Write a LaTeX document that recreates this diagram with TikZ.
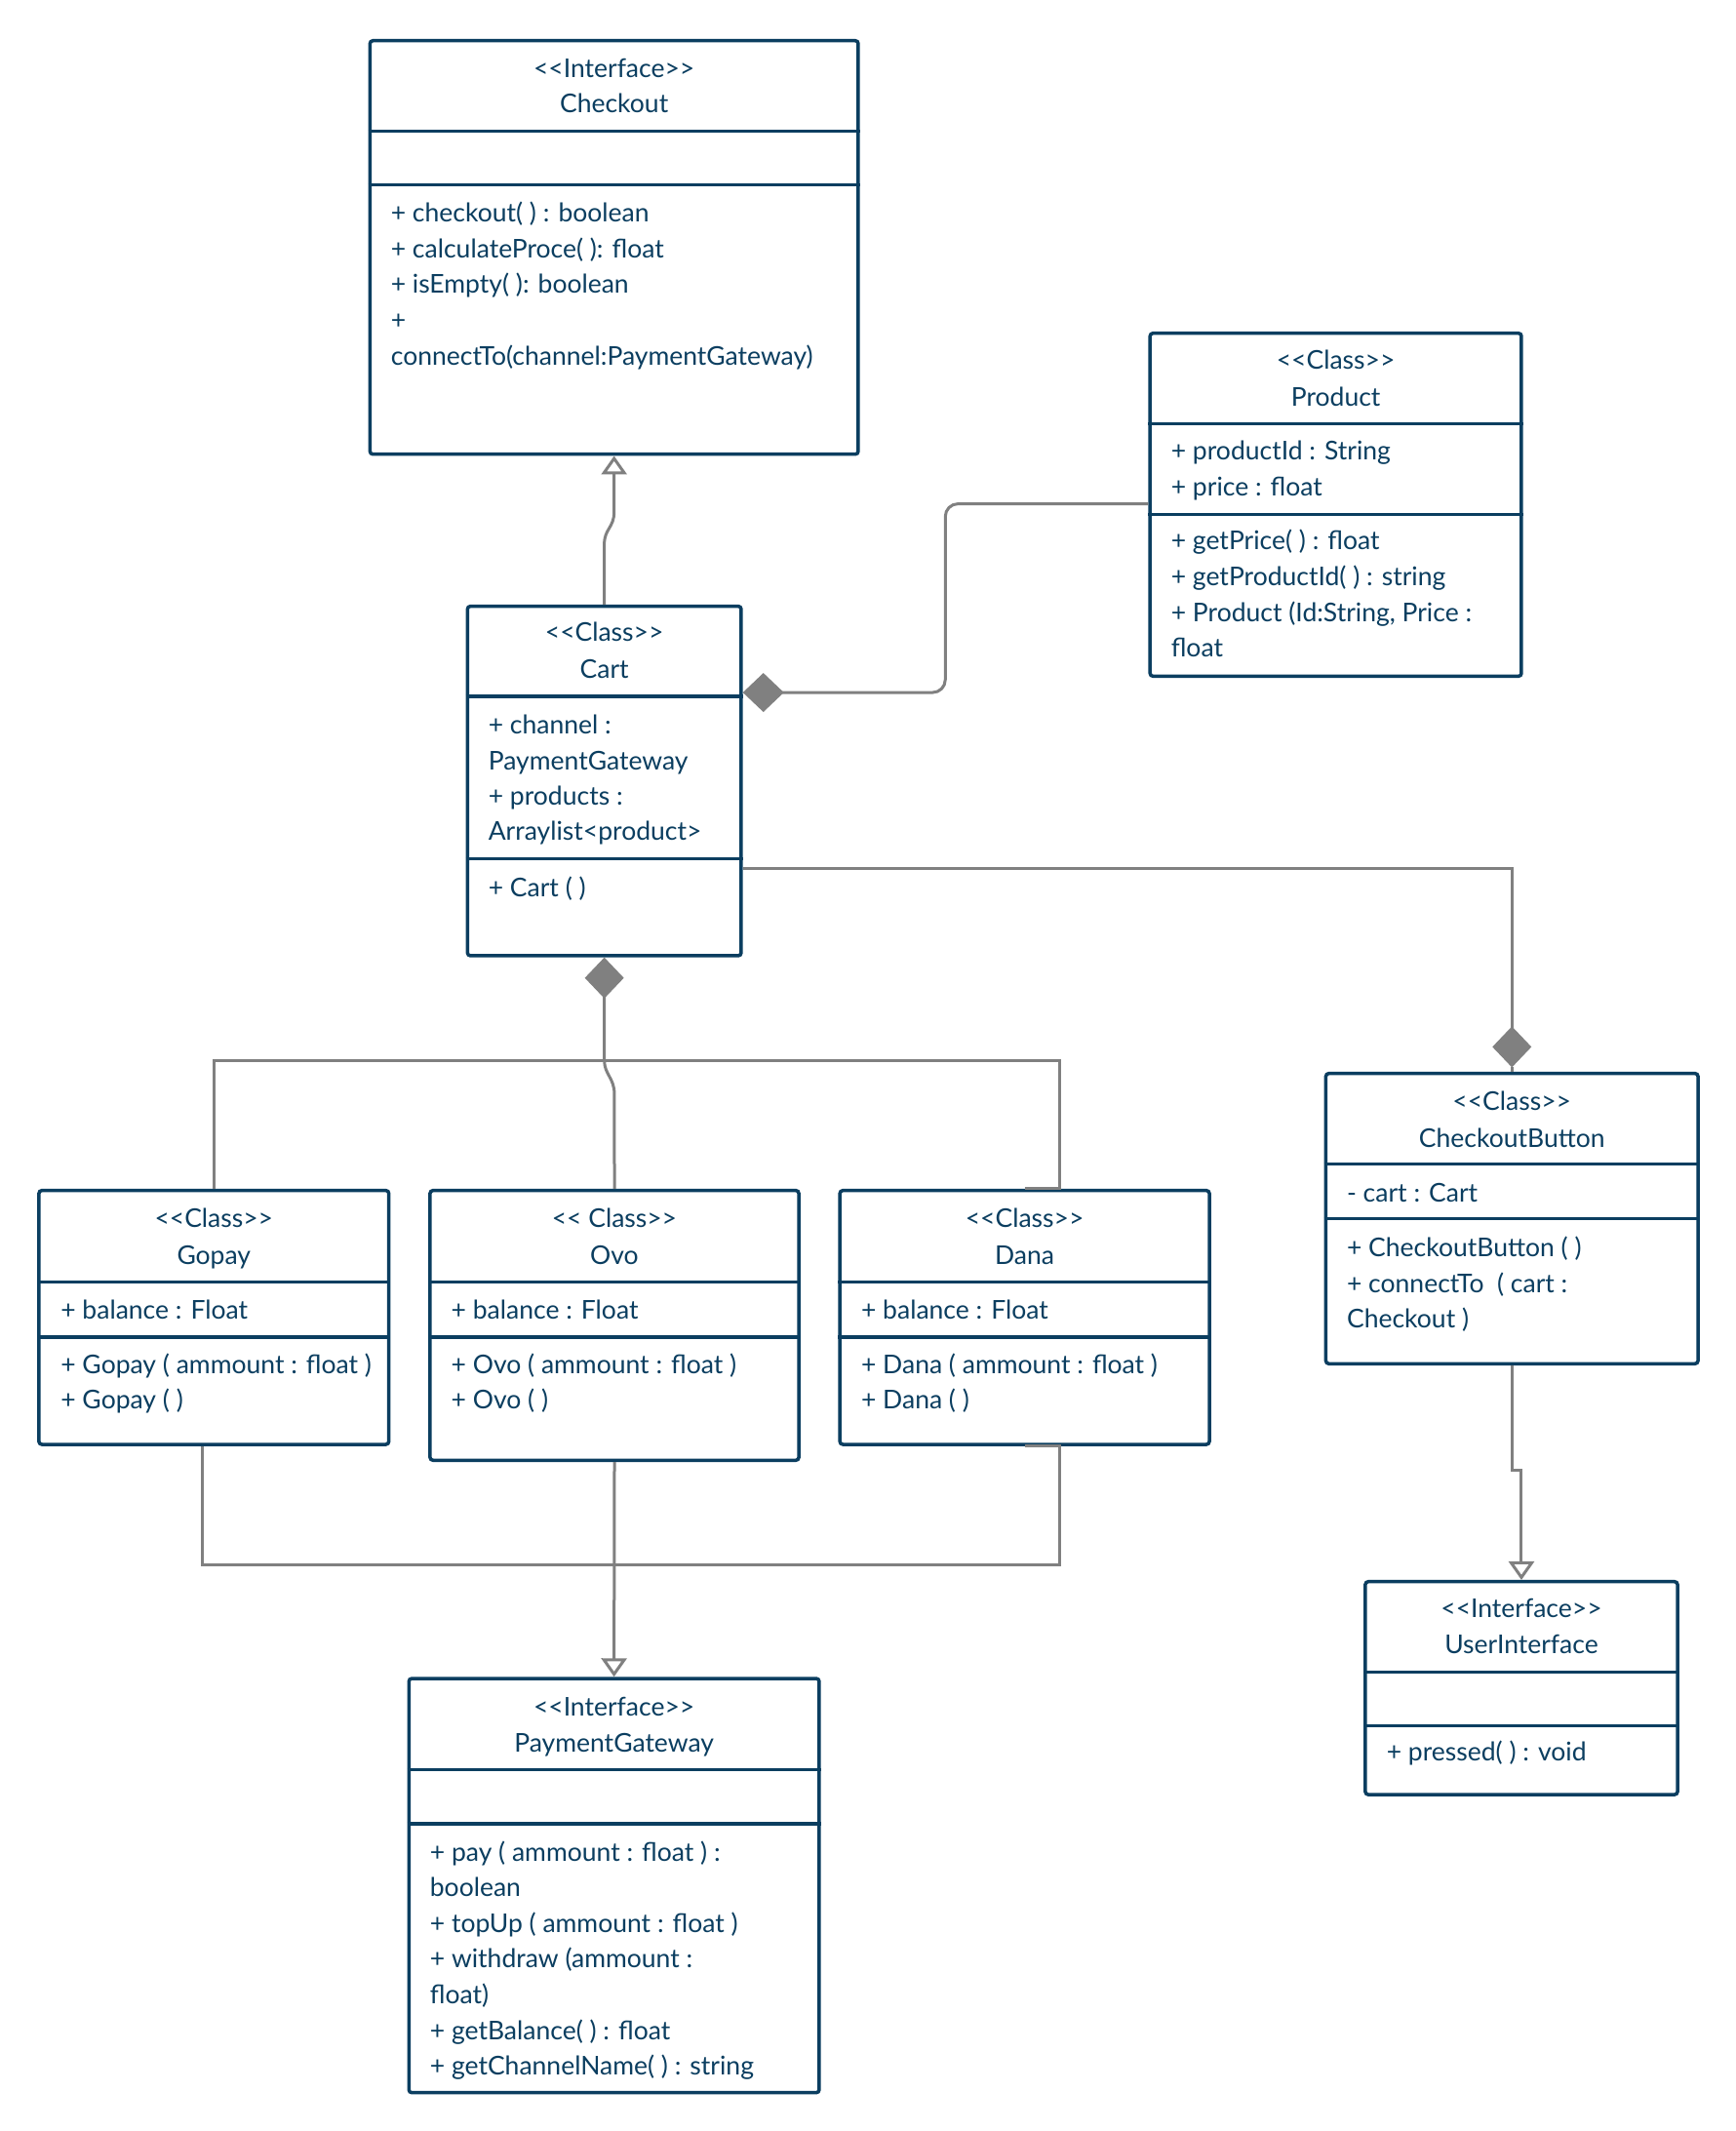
\documentclass[tikz,border=0pt]{standalone}
\usepackage{fontspec}
\setmainfont{Lato}
\usetikzlibrary{arrows.meta,fit}
\definecolor{umlblue}{RGB}{11,62,96}
\definecolor{umlgray}{RGB}{128,128,128}
\newcommand\umlline[4]{\node[umltxt] (#1) at (#2,#3) {#4};}
\newcommand\umlhead[4]{\node[umlhd] (#1) at (#2,#3) {#4};}
\newcommand\umlbox[5]{\node[umlbx, fit={(#2,#3) (#4,#5)}] (#1) {};}
\newcommand\umldiv[2]{\draw[umldv] (#1.west |- 0,#2) -- (#1.east |- 0,#2);}
\tikzset{
 umlbx/.style={draw=umlblue, line width=3.5pt, rounded corners=3pt, fill=white, inner sep=0pt},
 umldv/.style={draw=umlblue, line width=3.2pt},
 umltxt/.style={anchor=base west, inner sep=0pt, text=umlblue, font=\fontsize{26.5}{36}\selectfont},
 umlhd/.style={umltxt, anchor=base},
 conn/.style={draw=umlgray, line width=3pt},
 comp/.style={conn, -{Diamond[length=42pt,width=40pt]}},
 real/.style={conn, -{Triangle[open,length=19pt,width=26pt]}},
}
\begin{document}
\begin{tikzpicture}[x=1.390625pt, y=-1.390625pt]
\fill[white] (0,0) rectangle (1280,1571.27);
\useasboundingbox (0,0) rectangle (1280,1571.27);

% ---------- Checkout
\umlbox{checkout}{272.8}{30}{632.8}{334.9}
\umldiv{checkout}{96.6}
\umldiv{checkout}{136.2}
\umlhead{co0}{452.8}{57.1}{<{}<Interface>{}>}
\umlhead{co1}{452.8}{83.4}{Checkout}
\umlline{co2}{288.1}{163.7}{+ checkout( ) : boolean}
\umlline{co3}{288.1}{190}{+ calculateProce( ): float}
\umlline{co4}{288.1}{216.3}{+ isEmpty( ): boolean}
\umlline{co5}{288.1}{242.7}{+}
\umlline{co6}{288.1}{269}{connectTo(channel:PaymentGateway)}

% ---------- Product
\umlbox{product}{848}{245.7}{1121.8}{498.6}
\umldiv{product}{312.3}
\umldiv{product}{379.4}
\umlhead{pr0}{984.9}{272}{<{}<Class>{}>}
\umlhead{pr1}{984.9}{299.2}{Product}
\umlline{pr2}{863.4}{339.2}{+ productId : String}
\umlline{pr3}{863.4}{365.5}{+ price : float}
\umlline{pr4}{863.4}{405.1}{+ getPrice( ) : float}
\umlline{pr5}{863.4}{431.5}{+ getProductId( ) : string}
\umlline{pr6}{863.4}{458.3}{+ Product (Id:String, Price :}
\umlline{pr7}{863.4}{484.2}{float}

% ---------- Cart
\umlbox{cart}{344.7}{447}{546.5}{704.7}
\umldiv{cart}{513.4}
\umldiv{cart}{633.3}
\umlhead{ca0}{445.6}{472.9}{<{}<Class>{}>}
\umlhead{ca1}{445.6}{500.5}{Cart}
\umlline{ca2}{360}{541.2}{+ channel :}
\umlline{ca3}{360}{567.6}{PaymentGateway}
\umlline{ca4}{360}{593.3}{+ products :}
\umlline{ca5}{360}{619.6}{Arraylist<product>}
\umlline{ca6}{360}{661.1}{+ Cart ( )}

% ---------- CheckoutButton
\umlbox{cb}{977.6}{791.5}{1252}{1005.5}
\umldiv{cb}{858.2}
\umldiv{cb}{898.5}
\umlhead{cb0}{1114.8}{818.9}{<{}<Class>{}>}
\umlhead{cb1}{1114.8}{845.9}{CheckoutButton}
\umlline{cb2}{993}{886.2}{- cart : Cart}
\umlline{cb3}{993}{926.6}{+ CheckoutButton ( )}
\umlline{cb4}{993}{952.9}{+ connectTo\ \ ( cart :}
\umlline{cb5}{993}{979.2}{Checkout )}

% ---------- Gopay
\umlbox{gopay}{28.7}{877.8}{286.7}{1065}
\umldiv{gopay}{945.1}
\umldiv{gopay}{985.9}
\umlhead{go0}{157.7}{904.9}{<{}<Class>{}>}
\umlhead{go1}{157.7}{932}{Gopay}
\umlline{go2}{44.7}{972.7}{+ balance : Float}
\umlline{go3}{44.7}{1012.8}{+ Gopay ( ammount : float )}
\umlline{go4}{44.7}{1039.1}{+ Gopay ( )}

% ---------- Ovo
\umlbox{ovo}{317.1}{877.8}{589}{1076.7}
\umldiv{ovo}{945.1}
\umldiv{ovo}{985.9}
\umlhead{ov0}{453}{904.9}{<{}< Class>{}>}
\umlhead{ov1}{453}{932}{Ovo}
\umlline{ov2}{332.6}{972.7}{+ balance : Float}
\umlline{ov3}{332.6}{1012.8}{+ Ovo ( ammount : float )}
\umlline{ov4}{332.6}{1039.1}{+ Ovo ( )}

% ---------- Dana
\umlbox{dana}{619.3}{877.8}{891.7}{1065}
\umldiv{dana}{945.1}
\umldiv{dana}{985.9}
\umlhead{da0}{755.5}{904.9}{<{}<Class>{}>}
\umlhead{da1}{755.5}{932}{Dana}
\umlline{da2}{634.9}{972.7}{+ balance : Float}
\umlline{da3}{634.9}{1012.8}{+ Dana ( ammount : float )}
\umlline{da4}{634.9}{1039.1}{+ Dana ( )}

% ---------- PaymentGateway
\umlbox{pg}{301.5}{1237.6}{604}{1543}
\umldiv{pg}{1304.7}
\umldiv{pg}{1344.7}
\umlhead{pg0}{452.75}{1265.1}{<{}<Interface>{}>}
\umlhead{pg1}{452.75}{1292}{PaymentGateway}
\umlline{pg2}{316.9}{1372.3}{+ pay ( ammount : float ) :}
\umlline{pg3}{316.9}{1398.2}{boolean}
\umlline{pg4}{316.9}{1424.6}{+ topUp ( ammount : float )}
\umlline{pg5}{316.9}{1450.9}{+ withdraw (ammount :}
\umlline{pg6}{316.9}{1477.3}{float)}
\umlline{pg7}{316.9}{1503.7}{+ getBalance( ) : float}
\umlline{pg8}{316.9}{1530}{+ getChannelName( ) : string}

% ---------- UserInterface
\umlbox{ui}{1006.7}{1166.2}{1236.9}{1323.2}
\umldiv{ui}{1232.8}
\umldiv{ui}{1272.3}
\umlhead{ui0}{1121.8}{1192.5}{<{}<Interface>{}>}
\umlhead{ui1}{1121.8}{1218.9}{UserInterface}
\umlline{ui2}{1022.3}{1298.7}{+ pressed( ) : void}

% ---------- connectors
\coordinate (cartj) at (445.6,782);
\coordinate (pgj) at (452.75,1153.7);
\coordinate (cbj) at (1114.8,787);

\draw[real] (cart.north) -- (445.6,401) .. controls (445.6,390) and (452.8,389) .. (452.8,377.5) -- (checkout.south);

\draw[comp, rounded corners=13pt] (product.west |- 0,371.5) -| (697,510.6) -- (cart.east |- 0,510.6);

\draw[comp] (cart.east |- 0,640.7) -| (cbj);
\draw[conn] (cbj) -- (cb.north);

\draw[conn] (gopay.north) |- (cartj);
\draw[conn] (dana.north) -- (dana.north -| 781,0) |- (cartj);
\draw[comp] (ovo.north) -- (453,806.6) .. controls (453,795) and (445.6,792) .. (cartj) -- (cart.south);

\draw[conn] (gopay.south -| 149.5,0) |- (pgj);
\draw[conn] (dana.south) -- (dana.south -| 781,0) |- (pgj);
\draw[real] (ovo.south) -- (pg.north);

\draw[real] (cb.south) -- (cb.south |- 0,1084.4) -| (ui.north);
\end{tikzpicture}
\end{document}
